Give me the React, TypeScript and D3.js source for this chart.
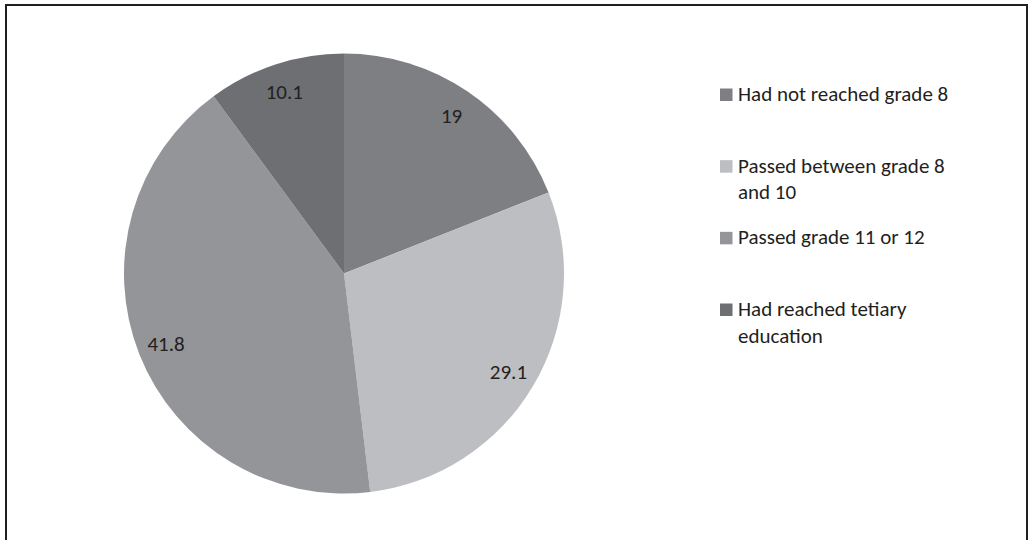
import * as d3 from 'd3';

const categories = [
  'Had not reached grade 8',
  'Passed between grade 8 and 10',
  'Passed grade 11 or 12',
  'Had reached tetiary education',
];
const values = [19, 29.1, 41.8, 10.1];
const sliceColors = ['#7e7f83', '#bdbec1', '#949599', '#6e6f73'];
// legend text wrapped as in the original
const legendLines = [
  ['Had not reached grade 8'],
  ['Passed between grade 8', 'and 10'],
  ['Passed grade 11 or 12'],
  ['Had reached tetiary', 'education'],
];

const W = 1029;
const H = 540;
const FONT = 'Carlito, Calibri, Lato, sans-serif';
const FS = 21;

export default function App() {
  const cx = 344;
  const cy = 273.5;
  const r = 220;

  const pie = d3.pie<number>().sort(null).value(d => d)(values);
  const arc = d3.arc<d3.PieArcDatum<number>>().innerRadius(0).outerRadius(r);
  const labelArc = d3.arc<d3.PieArcDatum<number>>().innerRadius(r * 0.87).outerRadius(r * 0.87);

  // legend rows: y of first baseline per entry
  const legendY = d3.scalePoint<number>().domain(d3.range(categories.length)).range([101, 316]);
  const lineH = 26.5;

  return (
    <svg width={W} height={H} style={{ position: 'absolute', left: 0, top: 0, background: '#fff' }}>
      <rect x={6} y={5} width={1021} height={H + 10} fill="#fff" stroke="#231f20" strokeWidth={2} />
      <g transform={`translate(${cx},${cy})`}>
        {pie.map((p, i) => (
          <path key={i} d={arc(p) ?? ''} fill={sliceColors[i]} />
        ))}
        {pie.map((p, i) => {
          const [lx, ly] = labelArc.centroid(p);
          return (
            <text key={i} x={lx} y={ly} dy="0.35em" textAnchor="middle" fontFamily={FONT} fontSize={FS} fill="#231f20">
              {String(values[i])}
            </text>
          );
        })}
      </g>
      <g fontFamily={FONT} fontSize={FS} fill="#231f20">
        {categories.map((c, i) => {
          const y = legendY(i) ?? 0;
          return (
            <g key={c}>
              <rect x={720} y={y - 12.5} width={12.5} height={12.5} fill={sliceColors[i]} />
              <text x={738} y={y}>
                {legendLines[i].map((l, j) => (
                  <tspan key={j} x={738} y={y + j * lineH}>{l}</tspan>
                ))}
              </text>
            </g>
          );
        })}
      </g>
    </svg>
  );
}
